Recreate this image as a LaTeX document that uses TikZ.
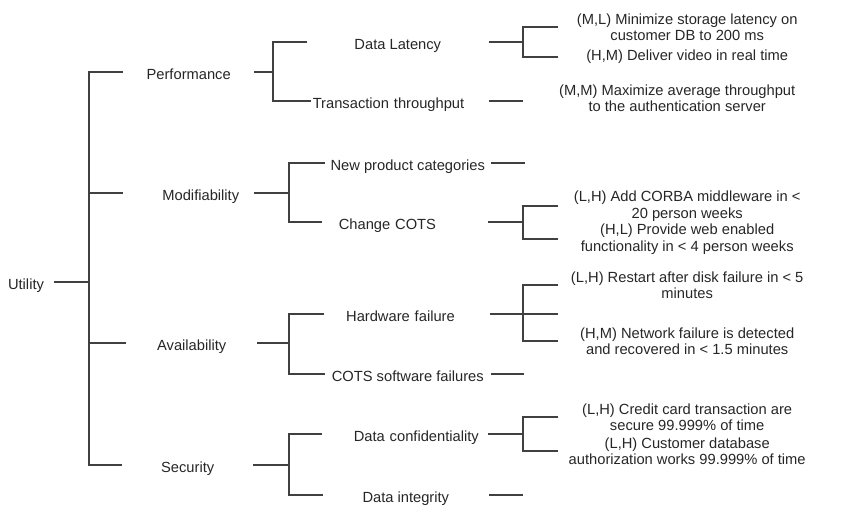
\documentclass[tikz,border=0pt]{standalone}
\usepackage{fontspec}
\setmainfont{Liberation Sans}
\begin{document}
\begin{tikzpicture}[x=1pt,y=-1pt,
  every node/.style={font=\fontsize{14.7}{16.5}\selectfont,text=black!85},
  line/.style={line width=1.2pt,black!75},
  qual/.style={anchor=west,minimum width=131pt,inner sep=0pt,text height=14pt,text depth=0pt},
  attr/.style={anchor=east,minimum width=166pt,inner sep=0pt,text height=14pt,text depth=0pt},
  scen/.style={anchor=west,minimum width=258pt,inner sep=0pt,align=center}]
%\draw[step=50,gray,very thin] (0,0) grid (861,517); %background grid
\useasboundingbox (0,0) rectangle (861,517);

\node[inner sep=0pt,inner xsep=10pt,text height=14pt,text depth=0pt] (util) at (26,282) {Utility};
\node[qual] (perf) at (123,72) {Performance};
\node[qual,text width=131pt,align=right] (modi) at (123,193) {Modifiability\hspace*{15pt}};
\node[qual] (avail) at (126,343) {Availability};
\node[qual] (secu) at (122,465) {Security};

\node[attr,minimum width=182pt] (late) at (489,42) {Data Latency};
\node[attr,text width=178pt,align=left] (thru) at (489,101) {\hspace*{2pt}Transaction throughput};
\node[attr] (prod) at (491,163) {New product categories};
\node[attr,text width=164pt,align=left] (cots) at (488,222) {\hspace*{16pt}Change COTS};
\node[attr,text width=164pt,align=right] (hard) at (490,314) {Hardware failure\hspace*{34pt}};
\node[attr] (swfail) at (491,374) {COTS software failures};
\node[attr,text width=164pt,align=right] (conf) at (488,434) {Data confidentiality\hspace*{8pt}};
\node[attr] (integ) at (489,495) {Data integrity};

\node[scen] (storage) at (558,27) {(M,L) Minimize storage latency on\\customer DB to 200 ms};
\node[scen] (video) at (558,57) {(H,M) Deliver video in real time};
\node[scen,minimum width=238pt] (auth) at (558,98) {(M,M) Maximize average throughput\\to the authentication server};
\node[scen] (corba) at (558,206) {(L,H) Add CORBA middleware in <\\20 person weeks};
\node[scen] (web) at (558,239) {(H,L) Provide web enabled\\functionality in < 4 person weeks};
\node[scen] (disk) at (558,285) {(L,H) Restart after disk failure in < 5\\minutes};
\node[scen] (net) at (558,341) {(H,M) Network failure is detected\\and recovered in < 1.5 minutes};
\node[scen] (card) at (558,417) {(L,H) Credit card transaction are\\secure 99.999\% of time};
\node[scen] (cdb) at (558,451) {(L,H) Customer database\\authorization works 99.999\% of time};

\coordinate (root) at (89,282);
\coordinate (jperf) at (273,72);
\coordinate (jmodi) at (289,193);
\coordinate (javail) at (289,343);
\coordinate (jsecu) at (289,465);
\coordinate (jlate) at (523,42);
\coordinate (jcots) at (523,222);
\coordinate (jhard) at (523,314);
\coordinate (jconf) at (523,434);
\coordinate (thruend) at (523,101);
\coordinate (prodend) at (525,163);
\coordinate (hardend) at (558,314);
\coordinate (swend) at (524,374);
\coordinate (integend) at (523,495);

\draw[line] (util.east) -- (root);
\draw[line] (perf.west) -| (root) |- (secu.west);
\draw[line] (modi.west) -- (modi.west -| root);
\draw[line] (avail.west) -- (avail.west -| root);

\draw[line] (perf.east) -- (jperf);
\draw[line] (late.west) -| (jperf) |- (thru.west);
\draw[line] (modi.east) -- (jmodi);
\draw[line] (prod.west) -| (jmodi) |- (cots.west);
\draw[line] (avail.east) -- (javail);
\draw[line] (hard.west) -| (javail) |- (swfail.west);
\draw[line] (secu.east) -- (jsecu);
\draw[line] (conf.west) -| (jsecu) |- (integ.west);

\draw[line] (late.east) -- (jlate);
\draw[line] (storage.west) -| (jlate) |- (video.west);
\draw[line] (thru.east) -- (thruend);
\draw[line] (prod.east) -- (prodend);
\draw[line] (cots.east) -- (jcots);
\draw[line] (corba.west) -| (jcots) |- (web.west);
\draw[line] (hard.east) -- (jhard) -- (hardend);
\draw[line] (disk.west) -| (jhard) |- (net.west);
\draw[line] (swfail.east) -- (swend);
\draw[line] (conf.east) -- (jconf);
\draw[line] (card.west) -| (jconf) |- (cdb.west);
\draw[line] (integ.east) -- (integend);
\end{tikzpicture}
\end{document}
